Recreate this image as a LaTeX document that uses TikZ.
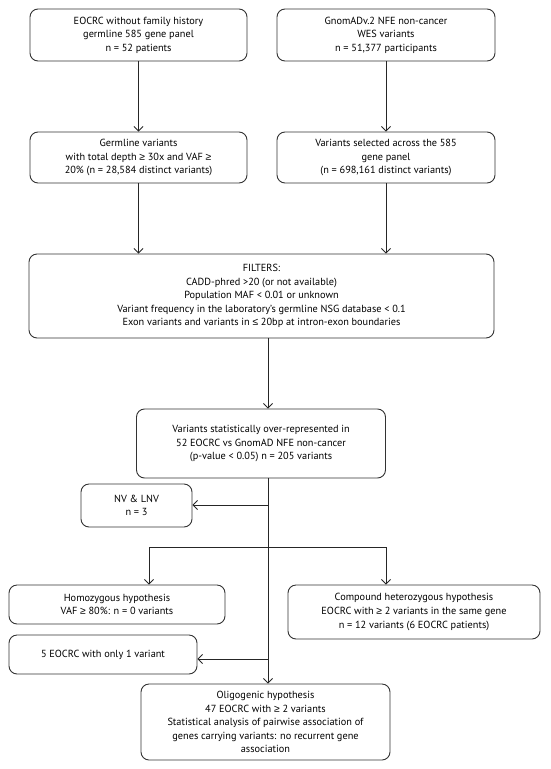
\documentclass[tikz,border=0pt]{standalone}
\usepackage{fontspec}
\setmainfont{PT Sans}
\newfontfamily\gefont{Liberation Sans}
\newcommand{\gsym}{{\gefont ≥}}
\newcommand{\lsym}{{\gefont ≤}}
\usetikzlibrary{arrows.meta}
\begin{document}
\begin{tikzpicture}[x=1pt,y=-1pt,
  box/.style={draw=black!80, line width=0.9pt, rounded corners=8pt, align=center,
    inner sep=0pt, font=\fontsize{10.3}{13.6}\selectfont, text=black},
  arr/.style={draw=black!85, line width=0.9pt, -{Straight Barb[length=4.5pt,width=9pt,line width=0.9pt]}},
  ln/.style={draw=black!85, line width=0.9pt}]
\useasboundingbox (0,0) rectangle (550,769);
\node[box, minimum width=217pt, minimum height=52pt] (b1) at (138.5,35) {EOCRC without family history\\germline 585 gene panel\\n = 52 patients};
\node[box, minimum width=218pt, minimum height=52pt] (b2) at (386,35) {GnomADv.2 NFE non-cancer\\WES variants\\n = 51,377 participants};
\node[box, minimum width=217pt, minimum height=51pt] (b3) at (138.5,157.5) {Germline variants\\with total depth \gsym{} 30x and VAF \gsym\\20\% (n = 28,584 distinct variants)};
\node[box, minimum width=218pt, minimum height=51pt] (b4) at (386,157.5) {Variants selected across the 585\\gene panel\\(n = 698,161 distinct variants)};
\node[box, minimum width=465pt, minimum height=84pt] (filt) at (261.5,296) {FILTERS:\\CADD-phred >20 (or not available)\\Population MAF < 0.01 or unknown\\Variant frequency in the laboratory’s germline NSG database < 0.1\\Exon variants and variants in \lsym{} 20bp at intron-exon boundaries};
\node[box, minimum width=249pt, minimum height=69pt] (b6) at (261,443.5) {Variants statistically over-represented in\\52 EOCRC vs GnomAD NFE non-cancer\\(p-value < 0.05) n = 205 variants};
\node[box, minimum width=111pt, minimum height=43pt] (nv) at (136.5,505.5) {NV \& LNV\\n = 3};
\node[box, minimum width=216pt, minimum height=39pt] (homo) at (117,604.5) {Homozygous hypothesis\\VAF \gsym{} 80\%: n = 0 variants};
\node[box, minimum width=252pt, minimum height=54pt] (comp) at (414,612) {Compound heterozygous hypothesis\\EOCRC with \gsym{} 2 variants in the same gene\\n = 12 variants (6 EOCRC patients)};
\node[box, minimum width=188pt, minimum height=39pt] (e5) at (103,654.5) {5 EOCRC with only 1 variant};
\node[box, minimum width=249pt, minimum height=76pt] (oli) at (265.5,722) {Oligogenic hypothesis\\47 EOCRC with \gsym{} 2 variants\\Statistical analysis of pairwise association of\\genes carrying variants: no recurrent gene\\association};
\coordinate (cx) at (268,0);
\coordinate (bl) at (149,547);
\coordinate (br) at (386,547);
\coordinate (nvy) at (0,505);
\coordinate (e5y) at (0,659);
\draw[arr] (b1) -- (b3);
\draw[arr] (b2) -- (b4);
\draw[arr] (b3.south) -- (b3.south |- filt.north);
\draw[arr] (b4.south) -- (b4.south |- filt.north);
\draw[arr] (filt.south -| cx) -- (b6.north -| cx);
\draw[arr] (b6.south -| cx) -- (oli.north -| cx);
\draw[arr] (cx |- nvy) -- (nv.east |- nvy);
\draw[ln] (bl) -- (br);
\draw[arr] (bl) -- (bl |- homo.north);
\draw[arr] (br) -- (br |- comp.north);
\draw[arr] (cx |- e5y) -- (e5.east |- e5y);
\end{tikzpicture}
\end{document}
